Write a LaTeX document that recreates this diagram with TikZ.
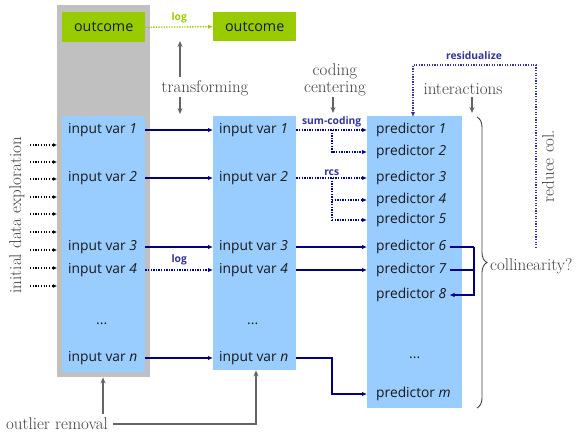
\documentclass[tikz,border=0pt]{standalone}
\usepackage{fontspec}
\newfontfamily\boxfont{Open Sans}
\usetikzlibrary{arrows.meta,decorations.pathreplacing}
\definecolor{panelblue}{RGB}{153,204,255}
\definecolor{outgreen}{RGB}{153,204,0}
\definecolor{framegray}{RGB}{192,192,192}
\definecolor{navyline}{RGB}{0,0,128}
\definecolor{navylabel}{RGB}{51,51,153}
\definecolor{notegray}{RGB}{64,64,64}
\definecolor{arrowgray}{RGB}{100,100,100}
\tikzset{
  panel/.style={fill=panelblue, draw=none, minimum width=#1, inner sep=0pt, anchor=north west},
  outbox/.style={fill=outgreen, draw=none, minimum width=83pt, minimum height=30pt, inner sep=0pt, anchor=north west, font=\boxfont\fontsize{14.3}{16}\selectfont, text=black!90},
  item/.style={anchor=west, inner sep=0pt, font=\boxfont\fontsize{13.8}{16}\selectfont, text=black!90},
  note/.style={font=\fontsize{17}{19}\selectfont, text=notegray, inner sep=1pt},
  flowlabel/.style={font=\boxfont\bfseries\fontsize{10.3}{12}\selectfont, text=navylabel, inner sep=0pt},
  solidflow/.style={draw=navyline, line width=1.3pt, -{Latex[length=5pt,width=4.5pt]}},
  dotflow/.style={draw=navyline!80!blue, line width=1.3pt, dash pattern=on 1.3pt off 1.3pt, -{Latex[length=5pt,width=4.5pt]}},
  dotline/.style={draw=navyline!80!blue, line width=1.3pt, dash pattern=on 1.3pt off 1.3pt},
  grayflow/.style={draw=arrowgray, line width=1.2pt, -{Stealth[length=6pt,width=5pt]}},
}
\begin{document}
\begin{tikzpicture}[x=1pt,y=-1pt]
\useasboundingbox (0,0) rectangle (576,432);

% grey frame around the raw data and the three columns
\node[fill=framegray, draw=none, minimum width=93pt, minimum height=372pt, inner sep=0pt, anchor=north west] (frame) at (57,5) {};
\node[panel=83pt, minimum height=256pt] (raw) at (62,116) {};
\node[panel=83pt, minimum height=254pt] (trans) at (213,116) {};
\node[panel=95pt, minimum height=292pt] (pred) at (367,116) {};

% outcome boxes
\node[outbox] (out1) at (62,12) {outcome};
\node[outbox, minimum height=29pt] (out2) at (213,12) {outcome};
\draw[draw=outgreen, line width=1.3pt, dash pattern=on 1.3pt off 1.3pt, -{Latex[length=5pt,width=4.5pt]}] (out1.east) -- (out2.west)
  node[midway, above=3pt, font=\boxfont\bfseries\fontsize{10.3}{12}\selectfont, text=outgreen, inner sep=0pt] {log};

% input variables
\node[item] (r1) at (68,130) {input var \textit{1}};
\node[item] (r2) at (68,178) {input var \textit{2}};
\node[item] (r3) at (68,247) {input var \textit{3}};
\node[item] (r4) at (68,270) {input var \textit{4}};
\node[item] (rd) at (96,324) {...};
\node[item] (rn) at (68,358) {input var \textit{n}};

\node[item] (t1) at (219,130) {input var \textit{1}};
\node[item] (t2) at (219,178) {input var \textit{2}};
\node[item] (t3) at (219,247) {input var \textit{3}};
\node[item] (t4) at (219,270) {input var \textit{4}};
\node[item] (td) at (247,324) {...};
\node[item] (tn) at (219,358) {input var \textit{n}};

% predictors
\node[item] (p1) at (376,130) {predictor \textit{1}};
\node[item] (p2) at (376,152) {predictor \textit{2}};
\node[item] (p3) at (376,178) {predictor \textit{3}};
\node[item] (p4) at (376,200) {predictor \textit{4}};
\node[item] (p5) at (376,220) {predictor \textit{5}};
\node[item] (p6) at (376,247) {predictor \textit{6}};
\node[item] (p7) at (376,270) {predictor \textit{7}};
\node[item] (p8) at (376,295) {predictor \textit{8}};
\node[item] (pd) at (409,358) {...};
\node[item] (pm) at (376,394) {predictor \textit{m}};

% raw -> transformed
\draw[solidflow] (raw.east |- r1) -- (trans.west |- t1);
\draw[solidflow] (raw.east |- r2) -- (trans.west |- t2);
\draw[solidflow] (raw.east |- r3) -- (trans.west |- t3);
\draw[dotflow] (raw.east |- r4) -- (trans.west |- t4)
  node[midway, above=4pt, flowlabel] {log};
\draw[solidflow] (raw.east |- rn) -- (trans.west |- tn);

% transformed -> predictors
\coordinate (split) at (332,0);
\draw[dotflow] (trans.east |- t1) -- (pred.west |- p1)
  node[pos=0.5, above=2pt, flowlabel] {sum-coding};
\draw[dotflow] (split |- t1) |- (pred.west |- p2);
\draw[dotflow] (trans.east |- t2) -- (pred.west |- p3)
  node[pos=0.5, above=2pt, flowlabel] {rcs};
\draw[dotline] (split |- t2) -- (split |- p5);
\draw[dotflow] (split |- p4) -- (pred.west |- p4);
\draw[dotflow] (split |- p5) -- (pred.west |- p5);
\draw[solidflow] (trans.east |- t3) -- (pred.west |- p6);
\draw[solidflow] (trans.east |- t4) -- (pred.west |- p7);
\draw[solidflow] (trans.east |- tn) -| (split |- pm) -- (pred.west |- pm);

% interaction of predictors 6 and 7
\coordinate (ia) at (474,0);
\draw[draw=navyline, line width=1.3pt] ([xshift=3pt]p6.east) -- (ia |- p6);
\draw[draw=navyline, line width=1.3pt] ([xshift=3pt]p7.east) -- (ia |- p7);
\draw[solidflow] (ia |- p6) -- (ia |- p8) -- ([xshift=3pt]p8.east);

% notes above the columns
\node[note] (transform) at (205,88) {transforming};
\coordinate (trtop) at (180,41);
\coordinate (trmid) at (180,77);
\coordinate (trlow) at (180,97);
\coordinate (trbot) at (180,114);
\draw[grayflow] (trmid) -- (trtop);
\draw[grayflow] (trlow) -- (trbot);

\node[note, align=center, font=\fontsize{17}{17}\selectfont] (coding) at (335,80) {coding\\centering};
\coordinate (cdtop) at (333,97);
\coordinate (cdbot) at (333,113);
\draw[grayflow] (cdtop) -- (cdbot);
\node[note] (inter) at (463,89) {interactions};
\coordinate (intop) at (472,97);
\coordinate (inbot) at (472,113);
\draw[grayflow] (intop) -- (inbot);

% collinearity brace and its remedy
\draw[draw=notegray, line width=0.9pt, decorate, decoration={brace, amplitude=10pt}] (477,117) -- (477,408);
\node[note, anchor=west] (coll) at (489,266) {collinearity?};
\coordinate (rc) at (536,248);
\coordinate (rtop) at (536,65);
\coordinate (rdrop) at (413,117);
\draw[dotflow, draw=navylabel, line width=1.2pt] (rc) -- (rtop) -| (rdrop);
\node[flowlabel] (resid) at (474,56) {residualize};
\node[note, rotate=90] (reduce) at (548,166) {reduce col.};

% initial exploration of the raw inputs
\node[note, rotate=90] (explore) at (17,215) {initial data exploration};
\foreach \yy in {145,162,179,197,214,232,250,268,286}
  \draw[draw=black, line width=1.1pt, dash pattern=on 1.2pt off 1.5pt, -{Latex[length=4pt,width=4pt]}] (30,\yy) -- (frame.west |- 0,\yy);

% outlier removal
\node[note] (outlier) at (57,424) {outlier removal};
\coordinate (orup) at (103,414);
\coordinate (orcorner) at (256,424);
\draw[grayflow] (orup) -- (frame.south -| orup);
\draw[grayflow] ([xshift=4pt]outlier.east) -- (orcorner) -- (trans.south -| orcorner);
\end{tikzpicture}
\end{document}
